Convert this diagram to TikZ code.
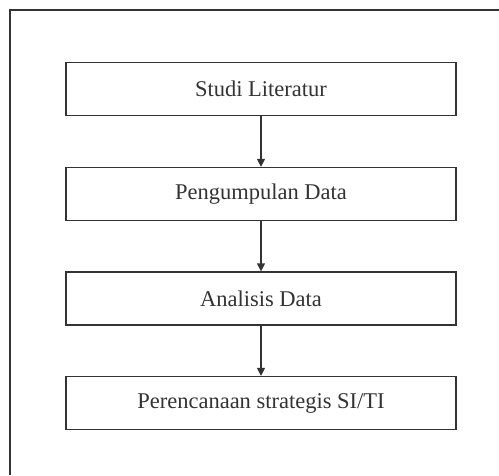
\documentclass[tikz,border=0pt]{standalone}
\usepackage{fontspec}
\setmainfont{Liberation Serif}
\usetikzlibrary{arrows.meta}
\definecolor{ln}{HTML}{333333}
\begin{document}
\begin{tikzpicture}[x=1pt,y=-1pt,
  stepbox/.style={draw=ln,line width=1.2pt,minimum width=390pt,minimum height=53pt,inner sep=0pt,font=\fontsize{22.5}{27}\selectfont,text=ln},
  flow/.style={draw=ln,line width=1.2pt,-{Triangle[length=8pt,width=8pt]}}]
\useasboundingbox (0,0) rectangle (499,475);
\coordinate (fl) at (10,475);
\coordinate (fc) at (10,10);
\coordinate (fr) at (499,10);
\draw[ln,line width=1.2pt] (fl) -- (fc) -- (fr);
\node[stepbox] (s1) at (261,89) {Studi Literatur};
\node[stepbox] (s2) at (261,194) {Pengumpulan Data};
\node[stepbox] (s3) at (261,298.5) {Analisis Data};
\node[stepbox] (s4) at (261,403) {Perencanaan strategis SI/TI};
\draw[flow] (s1) -- (s2);
\draw[flow] (s2) -- (s3);
\draw[flow] (s3) -- (s4);
\end{tikzpicture}
\end{document}
